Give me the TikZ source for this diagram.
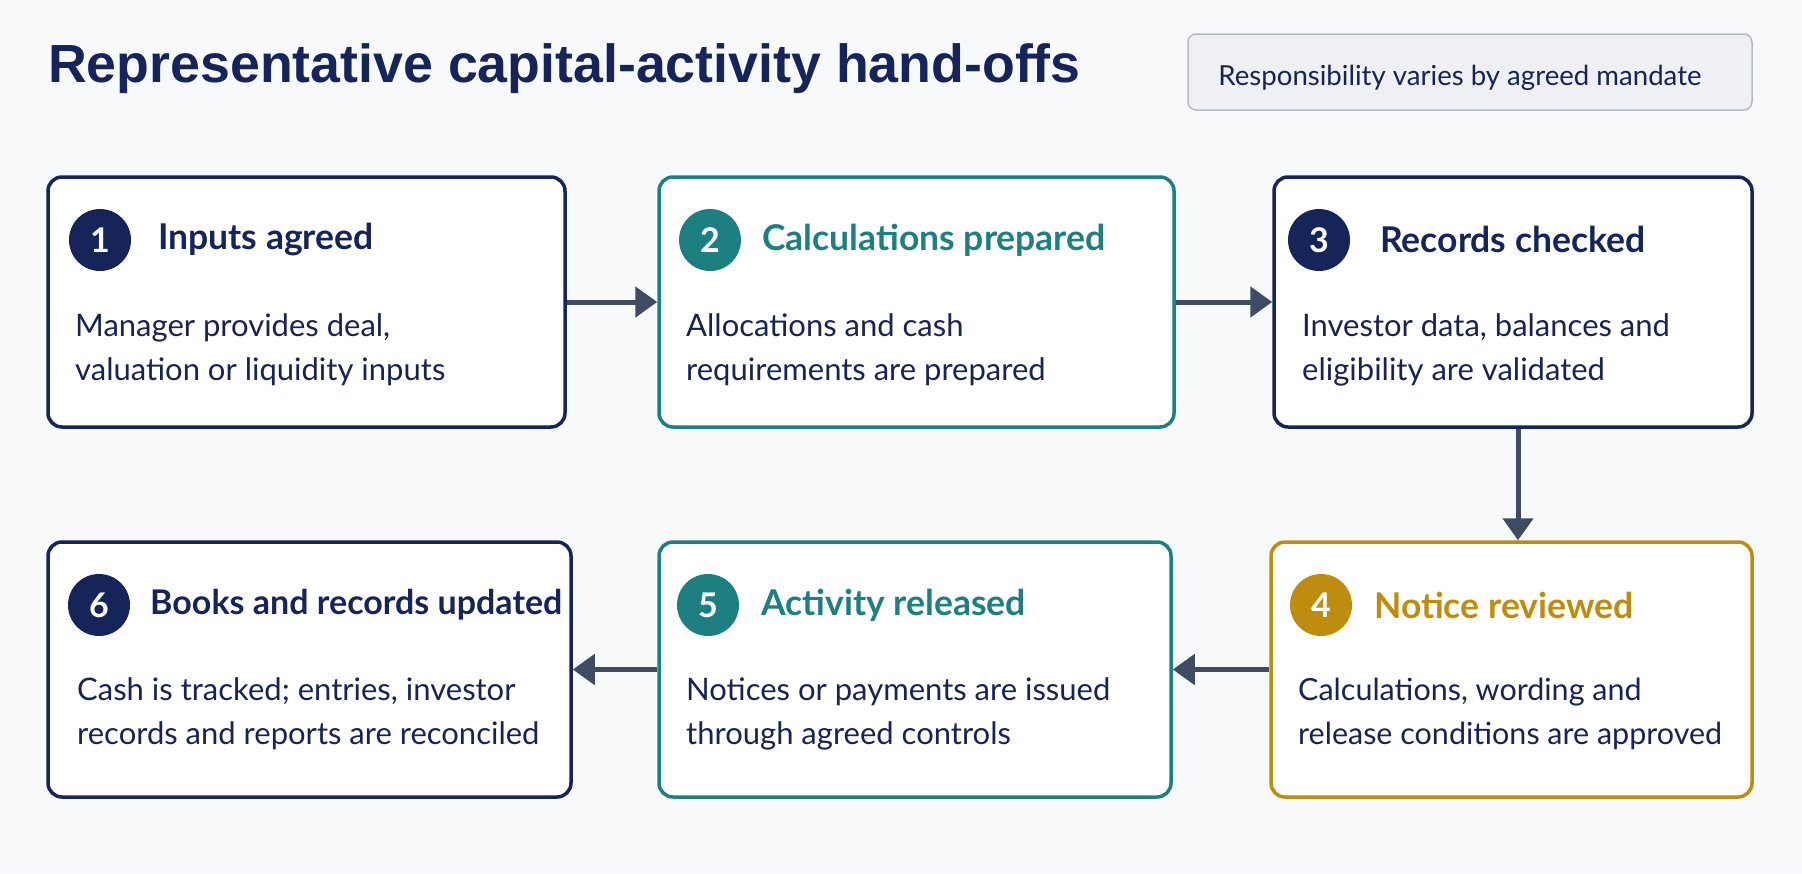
\documentclass[tikz,border=0pt]{standalone}
\usepackage{fontspec}
\usetikzlibrary{arrows.meta}
\newfontfamily\lato{Lato}
\newfontfamily\arialf{Liberation Sans}
\definecolor{navy}{HTML}{15255A}
\definecolor{tealc}{HTML}{1E7F80}
\definecolor{goldc}{HTML}{BE8C0E}
\definecolor{arrowc}{HTML}{3F4B63}
\definecolor{bgc}{HTML}{F8F9FB}
\definecolor{tagfill}{HTML}{EEF0F4}
\definecolor{tagdraw}{HTML}{B4BAC6}
\definecolor{bodyc}{HTML}{172452}
\tikzset{
  stepbox/.style={draw=#1, line width=3.5pt, fill=white, rounded corners=14pt, inner sep=0pt},
  badge/.style={circle, fill=#1, minimum size=62pt, inner sep=0pt, text=white, font=\lato\bfseries\fontsize{34}{34}\selectfont},
  heading/.style={anchor=west, inner sep=0pt, text=#1, font=\lato\bfseries\fontsize{35.5}{40}\selectfont},
  bodytext/.style={anchor=west, inner sep=0pt, align=left, text=bodyc, font=\lato\fontsize{31}{44}\selectfont},
  flow/.style={draw=arrowc, line width=5pt, -{Triangle[length=22pt,width=30pt]}}
}
\begin{document}
\begin{tikzpicture}[x=1pt,y=-1pt]
\fill[bgc] (0,0) rectangle (1802,873);
\useasboundingbox (0,0) rectangle (1802,873);
% title
\node[anchor=west, inner sep=0pt, text=navy, font=\arialf\bfseries\fontsize{53.7}{60}\selectfont] (title) at (48,69) {Representative capital-activity hand-offs};
% tag
\node[draw=tagdraw, fill=tagfill, line width=1.5pt, rounded corners=8pt, minimum width=564pt, minimum height=76pt, inner sep=0pt] (tag) at (1470,72) {};
\node[inner sep=0pt, text=bodyc, font=\lato\fontsize{27.6}{30}\selectfont] (tagtext) at (1460,78) {Responsibility varies by agreed mandate};
% boxes
\node[stepbox=navy, minimum width=517pt, minimum height=250pt] (b1) at (306.5,302) {};
\node[stepbox=tealc, minimum width=515pt, minimum height=250pt] (b2) at (916.5,302) {};
\node[stepbox=navy, minimum width=478pt, minimum height=250pt] (b3) at (1513,302) {};
\node[stepbox=goldc, minimum width=481pt, minimum height=255pt] (b4) at (1511.5,669.5) {};
\node[stepbox=tealc, minimum width=512pt, minimum height=255pt] (b5) at (915,669.5) {};
\node[stepbox=navy, minimum width=523pt, minimum height=255pt] (b6) at (309.5,669.5) {};
% box 1
\node[badge=navy] (c1) at (100,240) {1};
\node[heading=navy] (h1) at (158,240) {Inputs agreed};
\node[bodytext] (t1) at (75,350) {Manager provides deal,\\valuation or liquidity inputs};
% box 2
\node[badge=tealc] (c2) at (710,240) {2};
\node[heading=tealc] (h2) at (762,240) {Calculations prepared};
\node[bodytext] (t2) at (686,350) {Allocations and cash\\requirements are prepared};
% box 3
\node[badge=navy] (c3) at (1319,240) {3};
\node[heading=navy] (h3) at (1380,239) {Records checked};
\node[bodytext] (t3) at (1302,350) {Investor data, balances and\\eligibility are validated};
% box 4
\node[badge=goldc] (c4) at (1321,605) {4};
\node[heading=goldc] (h4) at (1374,605) {Notice reviewed};
\node[bodytext, font=\lato\fontsize{30.5}{44}\selectfont] (t4) at (1298,714) {Calculations, wording and\\release conditions are approved};
% box 5
\node[badge=tealc] (c5) at (708,605) {5};
\node[heading=tealc] (h5) at (761,605) {Activity released};
\node[bodytext] (t5) at (686,714) {Notices or payments are issued\\through agreed controls};
% box 6
\node[badge=navy] (c6) at (99,605) {6};
\node[heading=navy, font=\lato\bfseries\fontsize{34}{40}\selectfont] (h6) at (150,605) {Books and records updated};
\node[bodytext] (t6) at (77,714) {Cash is tracked; entries, investor\\records and reports are reconciled};
% arrows
\draw[flow] (b1.east) -- (b2.west);
\draw[flow] (b2.east) -- (b3.west);
\draw[flow] ([xshift=5pt]b3.south) -- ([xshift=6.5pt]b4.north);
\draw[flow] (b4.west) -- (b5.west -| b5.east);
\draw[flow] (b5.west) -- (b6.east);
\end{tikzpicture}
\end{document}
